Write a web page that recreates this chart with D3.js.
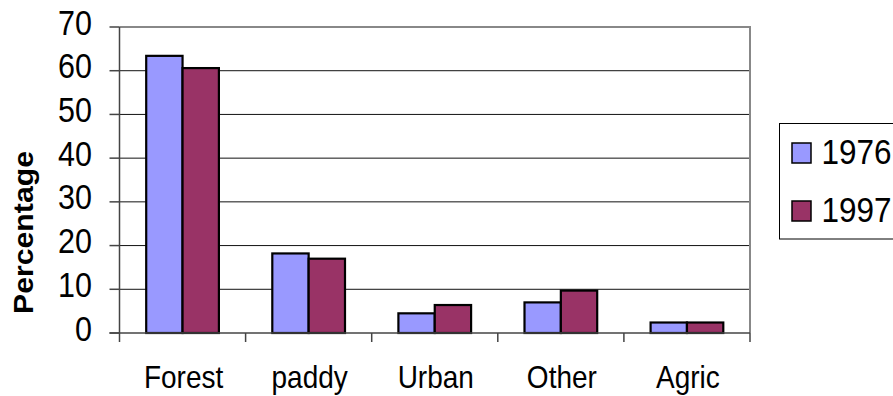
<!DOCTYPE html>
<html>
<head>
<meta charset="utf-8">
<script src="https://cdn.jsdelivr.net/npm/d3@7"></script>
<style>
  html, body { margin: 0; padding: 0; background: #fff; }
  svg { display: block; font-family: "Liberation Sans", Arial, sans-serif; }
</style>
</head>
<body>
<svg id="chart" width="893" height="396"></svg>
<script>
// Land use share (%) by category, 1976 vs 1997
const categories = ["Forest", "paddy", "Urban", "Other", "Agric"];
const seriesNames = ["1976", "1997"];
const values1976 = [63.4, 18.2, 4.5, 7.0, 2.4];
const values1997 = [60.6, 17.0, 6.4, 9.7, 2.4];
const yTicks = [0, 10, 20, 30, 40, 50, 60, 70];
const colors = ["#9999FF", "#993366"];

const svg = d3.select("#chart");
const plotLeft = 119.5, plotRight = 750, plotTop = 27, plotBottom = 333;
const vStretch = 1.12; // text glyphs are drawn slightly taller than wide

const x = d3.scaleBand().domain(categories).range([plotLeft, plotRight])
  .paddingInner(0.4235).paddingOuter(0.21175);
const xs = d3.scaleBand().domain(seriesNames).range([0, x.bandwidth()]).padding(0);
const y = d3.scaleLinear().domain([0, 70]).range([plotBottom, plotTop]);

// gridlines
svg.append("g").selectAll("line").data(yTicks.filter(d => d > 0 && d < 70)).join("line")
  .attr("x1", plotLeft).attr("x2", plotRight)
  .attr("y1", d => y(d)).attr("y2", d => y(d))
  .attr("stroke", "#111").attr("stroke-width", 1);

// plot frame: top and right edges in grey
svg.append("path")
  .attr("d", `M${plotLeft},${y(70)}H${plotRight}V${plotBottom}`)
  .attr("fill", "none").attr("stroke", "#888").attr("stroke-width", 2);

// bars
const rows = categories.map((c, i) => ({ cat: c, vals: [values1976[i], values1997[i]] }));
const groups = svg.append("g").selectAll("g").data(rows).join("g")
  .attr("transform", d => `translate(${x(d.cat)},0)`);
groups.selectAll("rect").data(d => d.vals.map((v, j) => ({ v, s: seriesNames[j], j }))).join("rect")
  .attr("x", d => xs(d.s))
  .attr("y", d => y(d.v))
  .attr("width", xs.bandwidth())
  .attr("height", d => y(0) - y(d.v))
  .attr("fill", d => colors[d.j])
  .attr("stroke", "#000").attr("stroke-width", 2.2);

// y axis line and ticks
svg.append("line").attr("x1", plotLeft).attr("x2", plotLeft).attr("y1", plotTop).attr("y2", plotBottom)
  .attr("stroke", "#444").attr("stroke-width", 1.5);
svg.append("g").selectAll("line").data(yTicks).join("line")
  .attr("x1", plotLeft - 10).attr("x2", plotLeft)
  .attr("y1", d => y(d)).attr("y2", d => y(d))
  .attr("stroke", "#444").attr("stroke-width", 1.5);
svg.append("g").selectAll("text").data(yTicks).join("text")
  .attr("transform", d => `translate(92,${y(d) + 7.5}) scale(1,${vStretch})`)
  .attr("text-anchor", "end")
  .attr("font-size", 30.5)
  .attr("fill", "#000")
  .text(d => d);

// x axis line, ticks at category boundaries
svg.append("line").attr("x1", plotLeft - 10).attr("x2", plotRight).attr("y1", plotBottom).attr("y2", plotBottom)
  .attr("stroke", "#444").attr("stroke-width", 1.5);
const bounds = d3.range(categories.length + 1).map(i => plotLeft + i * x.step());
svg.append("g").selectAll("line").data(bounds).join("line")
  .attr("x1", d => d).attr("x2", d => d)
  .attr("y1", plotBottom).attr("y2", plotBottom + 9)
  .attr("stroke", "#444").attr("stroke-width", 1.5);
svg.append("g").selectAll("text").data(categories).join("text")
  .attr("transform", d => `translate(${x(d) + x.bandwidth() / 2 + 1},388) scale(1,${vStretch})`)
  .attr("text-anchor", "middle")
  .attr("font-size", 28)
  .attr("fill", "#000")
  .text(d => d);

// axis title
svg.append("text")
  .attr("transform", `translate(33,${(150 + 315) / 2}) scale(1,${vStretch}) rotate(-90)`)
  .attr("text-anchor", "middle")
  .attr("font-size", 27)
  .attr("font-weight", "bold")
  .attr("fill", "#000")
  .text("Percentage");

// legend
const legend = svg.append("g");
legend.append("rect").attr("x", 779.5).attr("y", 123.5).attr("width", 130).attr("height", 115.5)
  .attr("fill", "#fff").attr("stroke", "#000").attr("stroke-width", 1);
const items = legend.selectAll("g.item").data(seriesNames).join("g").attr("class", "item")
  .attr("transform", (d, i) => `translate(0,${i * 58})`);
items.append("rect").attr("x", 792).attr("y", 143).attr("width", 19).attr("height", 20)
  .attr("fill", (d, i) => colors[i]).attr("stroke", "#000").attr("stroke-width", 1.5);
items.append("text")
  .attr("transform", `translate(821.5,163.5) scale(1,${vStretch})`)
  .attr("font-size", 31.5)
  .attr("fill", "#000")
  .text(d => d);
</script>
</body>
</html>
